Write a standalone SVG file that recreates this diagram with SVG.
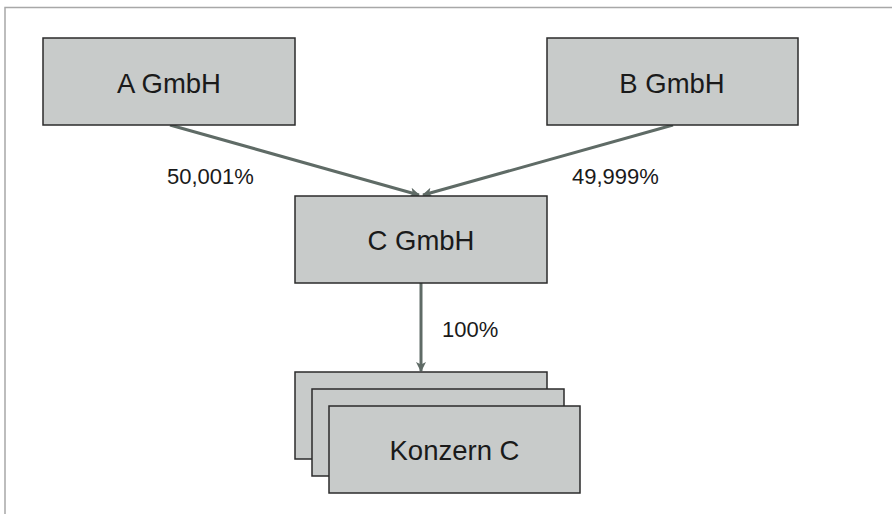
<svg xmlns="http://www.w3.org/2000/svg" width="892" height="514" viewBox="0 0 892 514">
<style>
.box{fill:#c8cbca;stroke:#2b2b2b;stroke-width:1.5}
.t{font-family:"Liberation Sans",Arial,sans-serif;font-size:27.5px;fill:#1a1a1a;text-anchor:middle}
.l{font-family:"Liberation Sans",Arial,sans-serif;font-size:22px;fill:#1a1a1a}
.c{stroke:#5f6b66;stroke-width:3;fill:none}
</style>
<defs>
<marker id="ah" markerWidth="10" markerHeight="10" viewBox="0 0 10 10" refX="9" refY="5" orient="auto" markerUnits="userSpaceOnUse">
<path d="M0,0 L10,5 L0,10 L2.5,5 Z" fill="#5f6b66"/>
</marker>
</defs>
<rect width="892" height="514" fill="#fff"/>
<path d="M5,514 V7.5 H892" fill="none" stroke="#a8a8a8" stroke-width="1.5"/>
<g id="connectors">
<line class="c" x1="170" y1="125" x2="419" y2="195" marker-end="url(#ah)"/>
<line class="c" x1="673" y1="125" x2="423" y2="195" marker-end="url(#ah)"/>
<line class="c" x1="421" y1="283" x2="421" y2="371" marker-end="url(#ah)"/>
<text class="l" x="167" y="184">50,001%</text>
<text class="l" x="572" y="184">49,999%</text>
<text class="l" x="442" y="337">100%</text>
</g>
<g id="a">
<rect class="box" x="43" y="38" width="252" height="87"/>
<text class="t" x="169" y="93">A GmbH</text>
</g>
<g id="b">
<rect class="box" x="547" y="38" width="251" height="87"/>
<text class="t" x="672" y="93">B GmbH</text>
</g>
<g id="c">
<rect class="box" x="295" y="196" width="252" height="87"/>
<text class="t" x="421" y="250">C GmbH</text>
</g>
<g id="konzern">
<rect class="box" x="295" y="372" width="252" height="87"/>
<rect class="box" x="312" y="389" width="252" height="87"/>
<rect class="box" x="329" y="406" width="251" height="87"/>
<text class="t" x="454.5" y="460">Konzern C</text>
</g>
</svg>
